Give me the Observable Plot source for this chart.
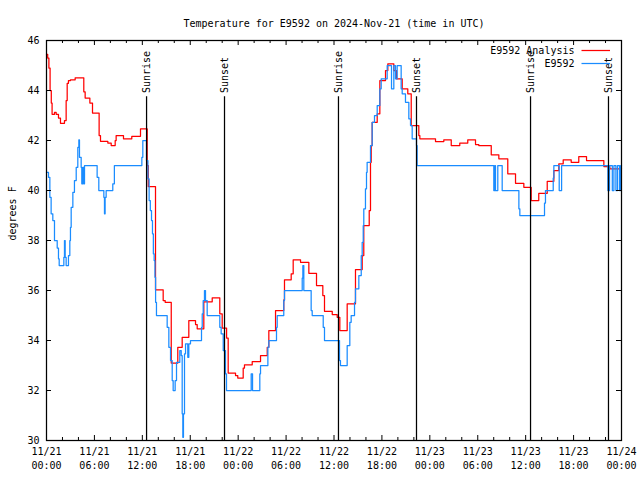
<!DOCTYPE html>
<html>
<head>
<meta charset="utf-8">
<script src="https://cdn.jsdelivr.net/npm/d3@7"></script>
<script src="https://cdn.jsdelivr.net/npm/@observablehq/plot@0.6"></script>
<style>
  html, body { margin: 0; padding: 0; background: #ffffff; }
  #chart svg { display: block; }
</style>
</head>
<body>
<div id="chart"></div>
<script>
// Hours since 2024-11-21 00:00 UTC, temperature in degrees F
const analysisSeries = [
  [0,45.45],[0.15,45.3],[0.3,44.9],[0.45,44.0],[0.6,43.5],[0.7,43.05],[1.0,43.13],[1.21,43.05],[1.5,42.9],[1.75,42.69],
  [2.25,42.8],[2.46,43.6],[2.59,44.29],[2.75,44.4],[3.0,44.43],[3.59,44.51],[4.67,43.95],[4.84,43.7],[5.43,43.5],[5.76,43.1],
  [6.59,42.2],[6.76,41.97],[7.68,41.9],[8.1,41.8],[8.6,42.0],[8.72,42.2],[9.64,42.07],[10.68,42.17],[11.77,42.47],[12.61,41.0],
  [12.75,40.16],[13.65,36.03],[14.61,35.6],[14.86,35.53],[15.62,33.1],[16.44,33.73],[16.99,34.13],[17.82,34.8],[18.66,34.64],[18.87,34.47],
  [19.7,35.55],[20.75,35.71],[21.7,35.07],[22.0,34.5],[22.55,34.1],[22.75,32.7],[23.67,32.6],[23.95,32.5],[24.63,32.9],[24.79,33.03],
  [25.76,33.16],[26.8,33.4],[27.64,33.73],[27.84,34.4],[28.68,35.2],[29.71,35.63],[29.8,36.43],[30.64,36.67],[30.89,37.23],[31.81,37.13],
  [32.85,36.69],[33.81,36.2],[34.6,35.8],[34.81,35.17],[35.78,35.04],[36.4,34.93],[36.73,34.4],[37.65,35.47],[38.69,36.84],[39.53,37.4],
  [39.73,38.6],[40.41,39.2],[40.57,41.13],[40.66,41.8],[40.78,42.73],[41.41,43.07],[41.74,44.4],[42.45,44.8],[42.74,45.07],[43.49,44.8],
  [43.83,44.47],[44.54,44.07],[45.24,43.87],[45.67,42.6],[46.62,42.2],[46.75,42.07],[48.71,41.96],[49.75,42.03],[50.68,41.8],[51.75,41.9],
  [52.75,42.03],[53.72,41.84],[54.13,41.8],[55.69,41.43],[56.64,41.27],[57.76,40.67],[58.73,40.29],[59.77,40.13],[60.69,39.6],[61.64,39.89],
  [62.7,40.37],[63.53,40.8],[64.15,41.07],[64.7,41.23],[65.7,41.13],[66.65,41.36],[67.62,41.2],[69.79,40.96],[70.54,40.87],[72,40.87]
];
const stationSeries = [
  [0,40.73],[0.25,40.53],[0.42,39.73],[0.58,39.07],[0.79,38.8],[1.0,38.0],[1.34,37.7],[1.5,37.27],[1.59,37.0],[2.17,37.33],
  [2.25,38.0],[2.34,37.33],[2.46,37.0],[2.75,37.4],[2.92,38.0],[3.0,38.53],[3.09,39.33],[3.3,39.93],[3.5,40.4],[3.72,40.93],
  [3.92,41.73],[4.05,42.03],[4.13,41.33],[4.34,40.93],[4.42,40.27],[4.55,40.93],[4.67,40.27],[4.76,41.0],[6.34,40.53],[6.55,40.0],
  [7.18,39.73],[7.26,39.07],[7.34,39.73],[7.47,40.0],[8.3,40.27],[8.5,41.0],[11.94,41.33],[12.06,42.0],[12.52,41.2],[12.7,40.47],
  [12.85,39.6],[13.0,39.2],[13.15,38.8],[13.27,38.27],[13.38,37.47],[13.48,37.2],[13.58,36.53],[13.66,35.53],[13.77,35.0],[15.11,34.53],
  [15.32,33.73],[15.53,33.2],[15.74,32.4],[15.86,32.0],[16.11,32.4],[16.28,33.13],[16.69,33.6],[16.87,33.4],[16.99,31.07],[17.07,30.13],
  [17.15,31.07],[17.28,33.47],[17.41,33.87],[17.69,33.33],[17.82,33.87],[18.03,34.0],[19.41,34.53],[19.5,35.07],[19.62,35.6],[19.78,36.0],
  [19.91,35.6],[20.12,35.0],[21.7,34.53],[21.87,34.27],[22.13,33.6],[22.41,32.67],[22.54,32.0],[25.63,32.67],[25.8,32.0],[26.71,32.67],
  [26.8,33.0],[27.72,33.73],[27.84,34.0],[28.8,34.53],[28.89,35.0],[29.71,35.6],[29.8,36.0],[32.02,36.5],[32.1,37.0],[32.22,36.0],
  [33.14,35.2],[33.27,35.0],[34.65,34.53],[34.81,34.0],[36.69,33.2],[36.81,33.0],[37.65,33.8],[37.98,34.73],[38.15,35.0],[38.57,35.53],
  [38.69,36.07],[39.11,36.6],[39.41,37.4],[39.53,37.93],[39.66,38.6],[39.73,39.27],[39.94,40.07],[40.07,40.73],[40.15,41.13],[40.57,41.8],
  [40.78,42.73],[41.07,43.0],[41.41,43.4],[41.74,44.07],[41.91,44.47],[42.66,45.0],[43.2,44.07],[43.49,45.0],[43.7,44.47],[43.91,45.0],
  [44.41,44.07],[44.54,43.87],[44.95,43.53],[45.37,42.87],[45.58,42.6],[45.79,42.07],[46.33,41.8],[46.41,41.0],[56.01,40.0],[56.12,41.0],
  [56.22,40.0],[56.51,41.0],[57.06,40.0],[59.15,39.27],[59.27,39.0],[62.36,39.5],[62.48,40.0],[63.45,40.5],[63.53,41.0],[64.2,40.0],
  [64.5,41.0],[70.3,40.0],[70.5,41.0],[70.85,40.0],[71.05,41.0],[71.3,40.0],[71.5,41.0],[71.75,40.0],[71.9,41.0],[72,41.0]
];
const sunEvents = [
  {h: 12.53, label: "Sunrise"}, {h: 22.29, label: "Sunset"},
  {h: 36.56, label: "Sunrise"}, {h: 46.33, label: "Sunset"},
  {h: 60.61, label: "Sunrise"}, {h: 70.37, label: "Sunset"}
];
const xMajorTicks = [0, 6, 12, 18, 24, 30, 36, 42, 48, 54, 60, 66, 72];
const xMinorTicks = [2, 4, 8, 10, 14, 16, 20, 22, 26, 28, 32, 34, 38, 40, 44, 46, 50, 52, 56, 58, 62, 64, 68, 70];
const xDateLabels = ["11/21","11/21","11/21","11/21","11/22","11/22","11/22","11/22","11/23","11/23","11/23","11/23","11/24"];
const xTimeLabels = ["00:00","06:00","12:00","18:00","00:00","06:00","12:00","18:00","00:00","06:00","12:00","18:00","00:00"];
const yTicks = [30, 32, 34, 36, 38, 40, 42, 44, 46];
const legendItems = [
  {label: "E9592 Analysis", color: "#ff0000"},
  {label: "E9592", color: "#1a8cff"}
];
const titleText = "Temperature for E9592 on 2024-Nov-21 (time in UTC)";
const yLabelText = "degrees F";

const X0 = 0, X1 = 72, Y0 = 30, Y1 = 46;
const pxPerHour = (640 - 46 - 19) / (X1 - X0);
const pxPerDeg = (480 - 40 - 40) / (Y1 - Y0);
const majorLen = 5, minorLen = 3;

const chart = Plot.plot({
  width: 640,
  height: 480,
  marginTop: 40,
  marginBottom: 40,
  marginLeft: 46,
  marginRight: 19,
  x: {domain: [X0, X1], axis: null},
  y: {domain: [Y0, Y1], axis: null},
  style: {fontFamily: "DejaVu Sans Mono", fontSize: "10px", background: "#ffffff", color: "#000000"},
  marks: [
    Plot.line(analysisSeries, {x: d => d[0], y: d => d[1], curve: "step-after", stroke: legendItems[0].color, strokeWidth: 1.25}),
    Plot.line(stationSeries, {x: d => d[0], y: d => d[1], curve: "step-after", stroke: legendItems[1].color, strokeWidth: 1.25}),
    Plot.ruleX(sunEvents, {x: "h", y1: Y0, y2: 43.75, stroke: "#000000", strokeWidth: 1.25}),
    Plot.text(sunEvents, {x: "h", y: 43.9, text: "label", rotate: -90, textAnchor: "start", lineAnchor: "middle"}),
    // ticks (inward, mirrored)
    Plot.ruleX(xMajorTicks, {x: d => d, y1: Y0, y2: Y0 + majorLen / pxPerDeg, stroke: "#000000"}),
    Plot.ruleX(xMajorTicks, {x: d => d, y1: Y1 - majorLen / pxPerDeg, y2: Y1, stroke: "#000000"}),
    Plot.ruleX(xMinorTicks, {x: d => d, y1: Y0, y2: Y0 + minorLen / pxPerDeg, stroke: "#000000"}),
    Plot.ruleX(xMinorTicks, {x: d => d, y1: Y1 - minorLen / pxPerDeg, y2: Y1, stroke: "#000000"}),
    Plot.ruleY(yTicks, {y: d => d, x1: X0, x2: X0 + majorLen / pxPerHour, stroke: "#000000"}),
    Plot.ruleY(yTicks, {y: d => d, x1: X1 - majorLen / pxPerHour, x2: X1, stroke: "#000000"}),
    Plot.frame({stroke: "#000000", strokeWidth: 1.25}),
    // tick labels
    Plot.text(yTicks, {y: d => d, frameAnchor: "left", dx: -7, textAnchor: "end", text: d => String(d)}),
    Plot.text(xMajorTicks, {x: d => d, frameAnchor: "bottom", dy: 14, text: (d, i) => xDateLabels[i]}),
    Plot.text(xMajorTicks, {x: d => d, frameAnchor: "bottom", dy: 28, text: (d, i) => xTimeLabels[i]}),
    // title and axis label
    Plot.text([titleText], {frameAnchor: "top", dy: -21, text: d => d}),
    Plot.text([yLabelText], {frameAnchor: "left", dx: -34, rotate: -90, text: d => d}),
    // legend
    Plot.text(legendItems, {y: (d, i) => Y1 - (10 + 13 * i) / pxPerDeg, frameAnchor: "right", dx: -47, textAnchor: "end", text: "label"}),
    Plot.ruleY(legendItems, {y: (d, i) => Y1 - (10 + 13 * i) / pxPerDeg, x1: X1 - 39.5 / pxPerHour, x2: X1 - 11 / pxPerHour, stroke: "color", strokeWidth: 1.25})
  ]
});
document.getElementById("chart").appendChild(chart);
</script>
</body>
</html>
